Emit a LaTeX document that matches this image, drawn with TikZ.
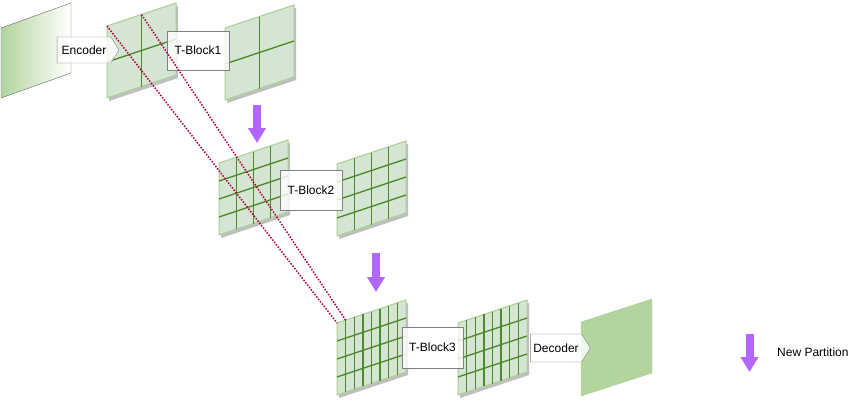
\documentclass[tikz,border=0pt]{standalone}
\usepackage{fontspec}
\setmainfont{Liberation Sans}
\usetikzlibrary{shapes.symbols, arrows.meta}

\definecolor{mapfill}{HTML}{D5E5D3}
\definecolor{mapedge}{HTML}{A9CF94}
\definecolor{mapgrid}{HTML}{4D8A2A}
\definecolor{outfill}{HTML}{B3D49D}
\definecolor{partcol}{HTML}{B266FF}
\definecolor{skipcol}{HTML}{B0003A}

\begin{document}
\begin{tikzpicture}[x=1pt, y=-1pt,
    every node/.style={font=\fontsize{12}{14}\selectfont},
    block/.style={draw=black!50, fill=white, fill opacity=0.8, text opacity=1, inner sep=0pt},
    coder/.style={block, shape=signal, signal to=east, signal pointer angle=116},
    partition/.style={partcol, line width=8pt, -{Triangle[width=17pt, length=15pt]}},
    skip/.style={skipcol, line width=1.5pt, dash pattern=on 1.5pt off 1.5pt},
    mapshadow/.style={fill=black!25, draw=none},
    mapbox/.style={fill=mapfill, draw=mapedge, line width=1pt},
    gridline/.style={mapgrid, line width=1.4pt}]

    \useasboundingbox (0,0) rectangle (856,402);

    % input image
    \coordinate (in-nw) at (1,28);
    \coordinate (in-ne) at (71,3);
    \coordinate (in-se) at (71,73);
    \coordinate (in-sw) at (1,98);
    \shade[left color=outfill, right color=white, draw=black!60] (in-nw) -- (in-ne) -- (in-se) -- (in-sw) -- cycle;

    % feature maps
    \foreach \x/\y/\c/\r/\n in {107/26/2/2/P1, 225/28/2/2/P2, 219/163/4/4/P3, 337/164/4/4/P4, 337/323/8/4/P5, 458/323/8/4/P6}{
        \begin{scope}[shift={(\x,\y)}, x={(69pt,23pt)}, y={(0pt,-72pt)}]
            \fill[mapshadow, xshift=2pt, yshift=-3pt] (0,0) -- (1,0) -- (1,1) -- (0,1) -- cycle;
            \draw[mapbox] (0,0) -- (1,0) -- (1,1) -- (0,1) -- cycle;
            \pgfmathtruncatemacro\cc{\c-1}
            \pgfmathtruncatemacro\rr{\r-1}
            \foreach \i in {1,...,\cc} \draw[gridline] (\i/\c,0) -- (\i/\c,1);
            \foreach \j in {1,...,\rr} \draw[gridline] (0,\j/\r) -- (1,\j/\r);
            \coordinate (\n-nw) at (0,0);
            \coordinate (\n-t1) at (1/\c,0);
        \end{scope}
    }

    % output image
    \coordinate (out-nw) at (581,322);
    \coordinate (out-ne) at (652,299);
    \coordinate (out-se) at (652,373);
    \coordinate (out-sw) at (581,396);
    \draw[fill=outfill, draw=mapedge] (out-nw) -- (out-ne) -- (out-se) -- (out-sw) -- cycle;

    % blocks
    \node[coder, minimum width=62pt, minimum height=26pt] (enc) at (84,50) {Encoder};
    \node[block, minimum width=62pt, minimum height=39pt] (tb1) at (198,50.5) {T-Block1};
    \node[block, minimum width=62pt, minimum height=40pt] (tb2) at (311,190) {T-Block2};
    \node[block, minimum width=61pt, minimum height=41pt] (tb3) at (432.5,347.5) {T-Block3};
    \node[coder, minimum width=60pt, minimum height=28pt] (dec) at (556,348) {Decoder};

    % new partition arrows
    \coordinate (np1-top) at (257,105);
    \coordinate (np1-tip) at (257,143);
    \coordinate (np2-top) at (376,253);
    \coordinate (np2-tip) at (376,292);
    \coordinate (key-top) at (749.5,334);
    \coordinate (key-tip) at (749.5,372);
    \draw[partition] (np1-top) -- (np1-tip);
    \draw[partition] (np2-top) -- (np2-tip);
    \draw[partition] (key-top) -- (key-tip);
    \node[anchor=west, inner sep=0pt] (key) at (777,352) {New Partition};

    % skip connections
    \draw[skip] (P1-nw) -- (P5-nw);
    \draw[skip] (P1-t1) -- (P5-t1);

\end{tikzpicture}
\end{document}
